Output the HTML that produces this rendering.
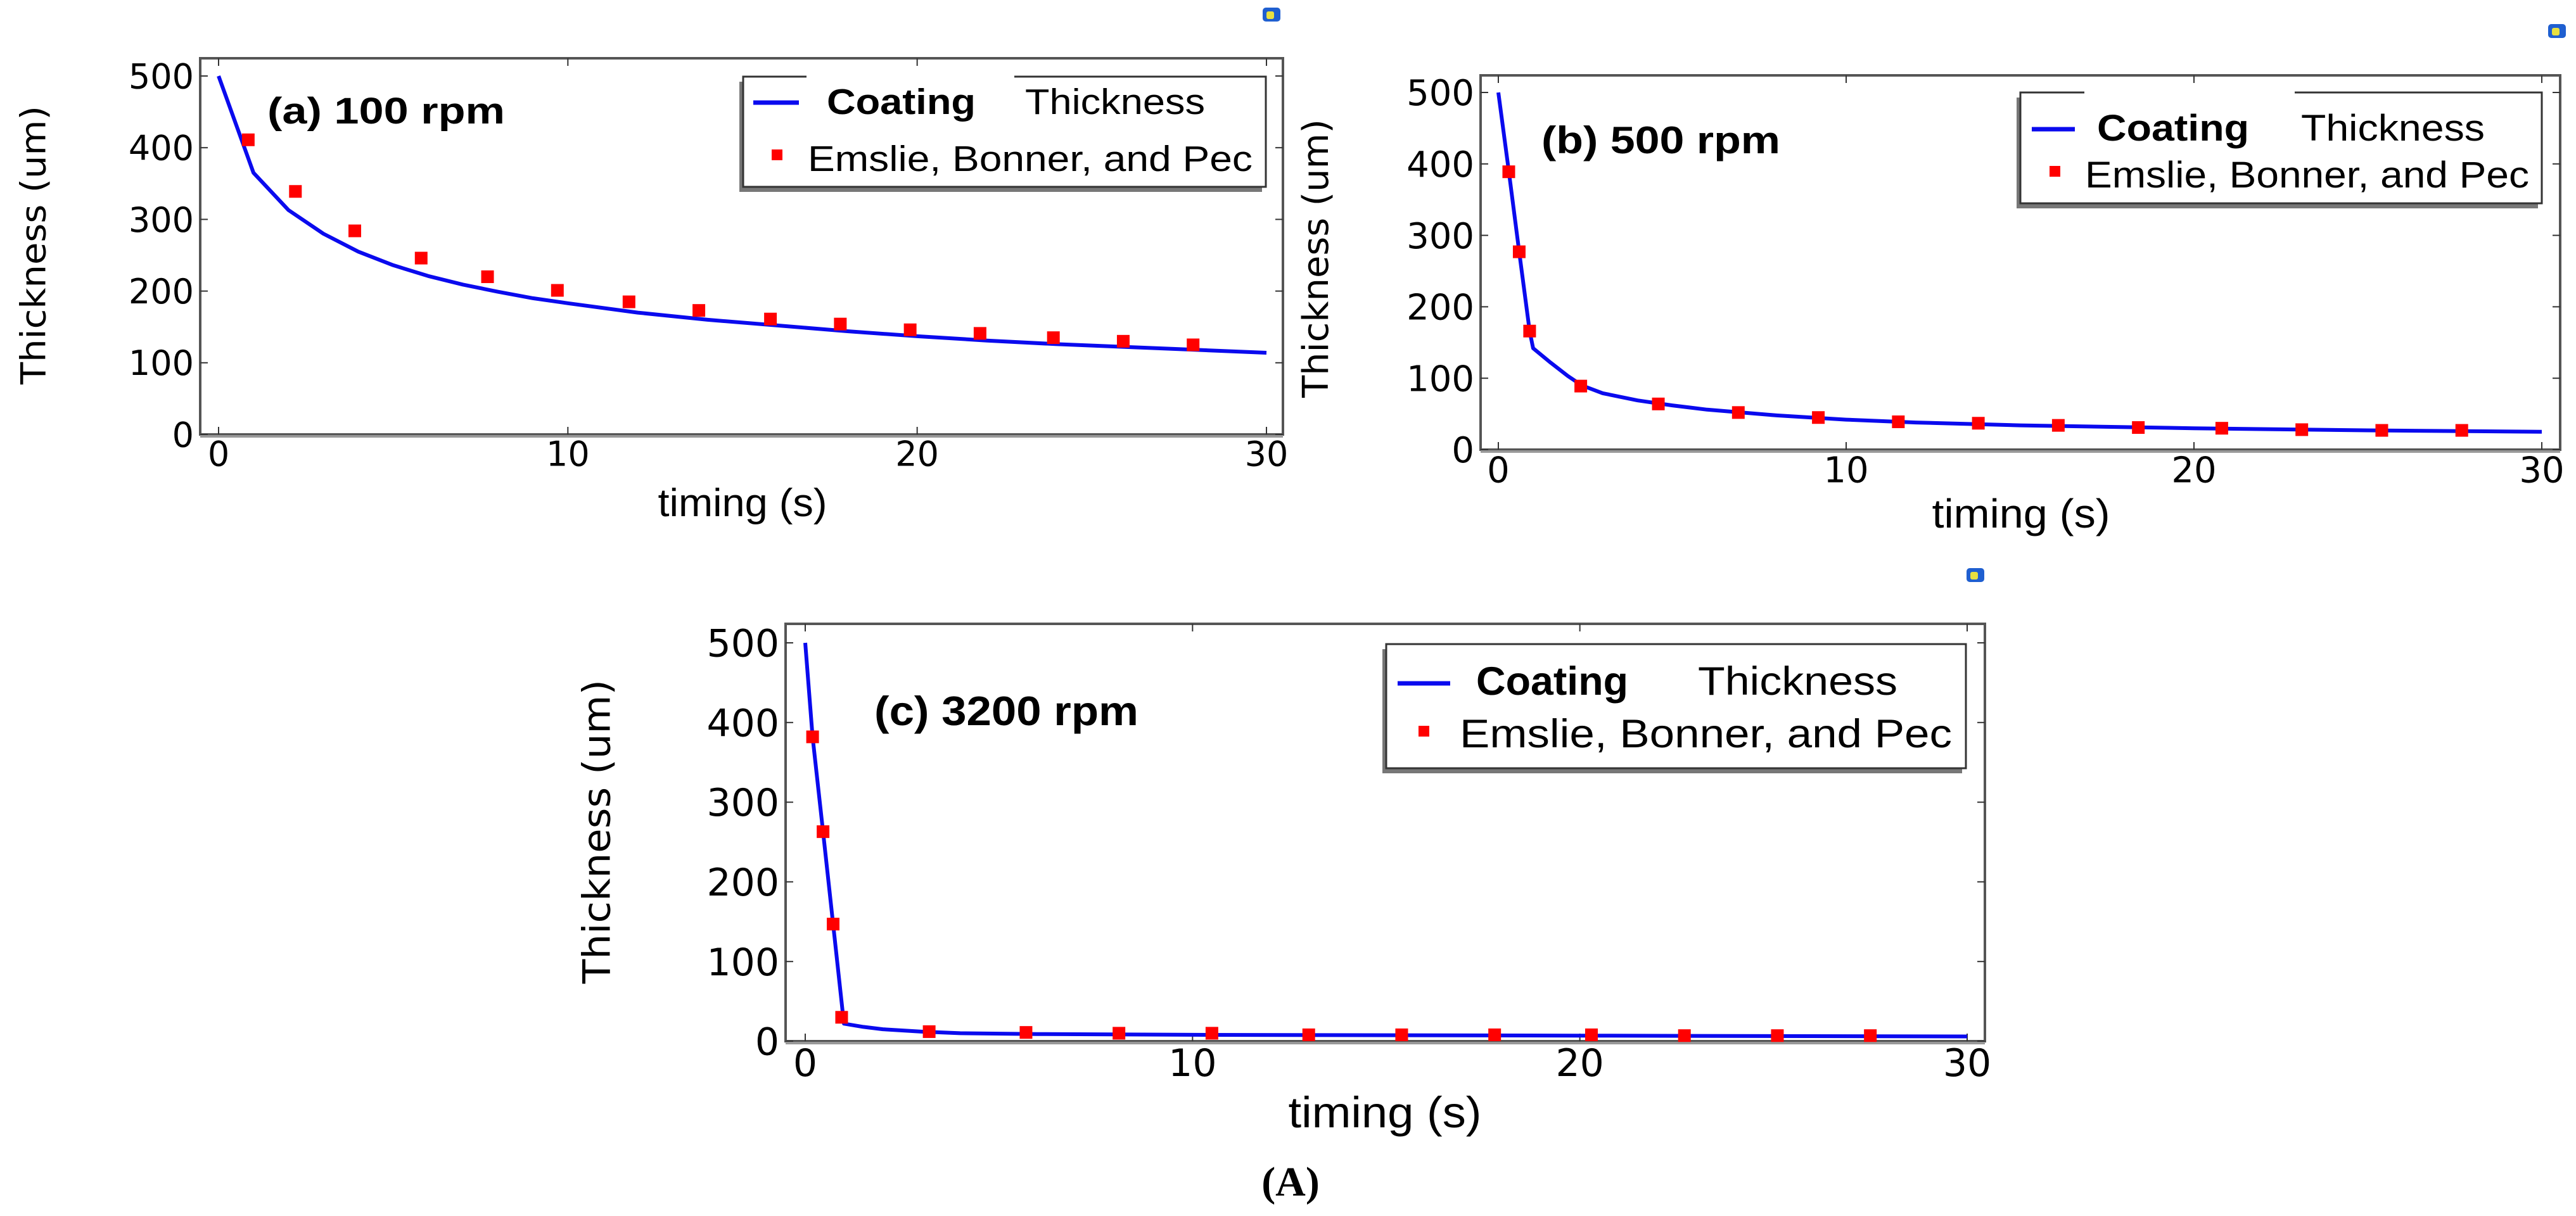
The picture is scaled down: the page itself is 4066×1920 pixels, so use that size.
<!DOCTYPE html>
<html><head><meta charset="utf-8"><style>
html,body{margin:0;padding:0;background:#fff;}
svg{display:block;}
</style></head><body>
<svg id="fig" width="4066" height="1920" viewBox="0 0 4066 1920" xmlns="http://www.w3.org/2000/svg">
<text x="2037" y="1888" font-family="Liberation Serif, serif" font-weight="bold" font-size="66" text-anchor="middle">(A)</text>
</svg>
<script>
// ---- data: panel (a) 100 rpm ----
const aLineT = [0,1,2,3,4,5,6,7,8,9,10,12,14,16,18,20,22,24,26,28,30];
const aLineV = [500,365,313,280,255,236,221,209,199,190,183,170,160,152,144,137,131,126,122,118,114];
const aMarkT = [0.85,2.2,3.9,5.8,7.7,9.7,11.75,13.75,15.8,17.8,19.8,21.8,23.9,25.9,27.9];
const aMarkV = [411,339,284,246,220,201,185,173,161,154,146,141,135,130,125];
// ---- data: panel (b) 500 rpm ----
const bLineT = [0,0.3,0.6,0.9,1.0,1.5,2,2.4,3,4,5,6,8,10,12,15,20,25,30];
const bLineV = [500,390,277,166,142,122,103,90,79,69,62,56,48,42,38,34,30,27,25];
const bMarkT = [0.3,0.6,0.9,2.37,4.6,6.9,9.2,11.5,13.8,16.1,18.4,20.8,23.1,25.4,27.7];
const bMarkV = [389,277,166,89,64,52,45,39,37,34,31,30,28,27,27];
// ---- data: panel (c) 3200 rpm ----
const cLineT = [0,0.19,0.46,0.72,1.0,1.5,2,3,4,6,10,20,30];
const cLineV = [500,382,263,147,22,18,15,12,10,9,8,7,6];
const cMarkT = [0.19,0.46,0.72,0.94,3.2,5.7,8.1,10.5,13,15.4,17.8,20.3,22.7,25.1,27.5];
const cMarkV = [382,263,147,30,12,11,10,10,8,8,8,8,7,7,7];
// ---- axis ticks ----
const xTicks = [0,10,20,30];
const yTicks = [0,100,200,300,400,500];

const NS = 'http://www.w3.org/2000/svg';
const svg = document.getElementById('fig');
function mk(tag, attrs, parent, text){
  const e = document.createElementNS(NS, tag);
  for (const k in attrs) e.setAttribute(k, attrs[k]);
  if (text !== undefined) e.textContent = text;
  (parent||svg).appendChild(e);
  return e;
}

const panels = [
  {id:'a', label:'(a) 100 rpm', lt:aLineT, lv:aLineV, mt:aMarkT, mv:aMarkV,
   box:[316,92,2025,686], x0:345, x1:1999, y0:686, y500:120, fs:54,
   ytitle:[52,387,440], xtitle:[1172,815,267], labelPos:[422,175,375],
   leg:[1173,121,1998,295], gap:[1273,1601], legRows:[180,270],
   lineS:[1189,1261], coat:[1305,235], thick:[1618,284], mk:1226, ems:[1275,702], icon:[1993,12]},
  {id:'b', label:'(b) 500 rpm', lt:bLineT, lv:bLineV, mt:bMarkT, mv:bMarkV,
   box:[2337,119,4041,710], x0:2365, x1:4012, y0:710, y500:146, fs:56,
   ytitle:[2076,408,440], xtitle:[3190,833,281], labelPos:[2433,222,377],
   leg:[3189,146,4012,321], gap:[3290,3622], legRows:[222,296],
   lineS:[3207,3275], coat:[3310,240], thick:[3632,290], mk:3243, ems:[3291,701], icon:[4022,38]},
  {id:'c', label:'(c) 3200 rpm', lt:cLineT, lv:cLineV, mt:cMarkT, mv:cMarkV,
   box:[1240,985,3133,1644], x0:1271, x1:3105, y0:1644, y500:1015, fs:60,
   ytitle:[941,1313,480], xtitle:[2186,1780,305], labelPos:[1380,1125,417],
   leg:[2188,1017,3103,1213], gap:null, legRows:[1097,1180],
   lineS:[2206,2289], coat:[2330,240], thick:[2680,315], mk:2247, ems:[2304,777], icon:[3104,897]}
];

panels.forEach(p => {
  const g = mk('g', {});
  
  
  const sx = t => p.x0 + (t/30)*(p.x1-p.x0);
  const sy = v => p.y0 - (v/500)*(p.y0-p.y500);
  const [L,T,R,B] = p.box;
  // frame
  const frame = mk('rect', {x:L, y:T, width:R-L, height:B-T, fill:'none', stroke:'#555', 'stroke-width':4}, g);
  
  
  mk('line', {x1:L, y1:B+3, x2:R, y2:B+3, stroke:'#999', 'stroke-width':4}, g);
  // x ticks
  xTicks.forEach(t => {
    const x = sx(t);
    mk('line', {x1:x, y1:B, x2:x, y2:B-12, stroke:'#333', 'stroke-width':2}, g);
    mk('line', {x1:x, y1:T, x2:x, y2:T+12, stroke:'#333', 'stroke-width':2}, g);
    const tl = mk('text', {x:x, y:B+p.fs*0.92, 'font-family':'DejaVu Sans, sans-serif', 'font-size':p.fs, 'text-anchor':'middle', fill:'#000'}, g, String(t));
    
    
  });
  // y ticks
  yTicks.forEach(v => {
    const y = sy(v);
    mk('line', {x1:L, y1:y, x2:L+12, y2:y, stroke:'#333', 'stroke-width':2}, g);
    mk('line', {x1:R, y1:y, x2:R-12, y2:y, stroke:'#333', 'stroke-width':2}, g);
    const tl = mk('text', {x:L-10, y:y+p.fs*0.36, 'font-family':'DejaVu Sans, sans-serif', 'font-size':p.fs, 'text-anchor':'end', fill:'#000'}, g, String(v));
    
    
  });
  // axis titles
  const [yx,yy,yl] = p.ytitle;
  const yt = mk('text', {x:0, y:0, transform:`translate(${yx+p.fs*0.36},${yy}) rotate(-90)`, 'font-family':'DejaVu Sans, sans-serif', 'font-size':p.fs, 'text-anchor':'middle', textLength:yl, lengthAdjust:'spacingAndGlyphs'}, g, 'Thickness (um)');
  
  
  const [xx,xy,xl] = p.xtitle;
  const xt = mk('text', {x:xx, y:xy, 'font-family':'Liberation Sans, sans-serif', 'font-size':p.fs*1.15, 'text-anchor':'middle', textLength:xl, lengthAdjust:'spacingAndGlyphs'}, g, 'timing (s)');
  
  
  // line series
  const d = p.lt.map((t,i) => (i?'L':'M') + sx(t).toFixed(1) + ',' + sy(p.lv[i]).toFixed(1)).join(' ');
  const ln = mk('path', {d:d, fill:'none', stroke:'#0a0aee', 'stroke-width':6, 'stroke-linejoin':'round'}, g);
  
  
  // markers
  p.mt.forEach((t,i) => {
    const r = mk('rect', {x:sx(t)-10, y:sy(p.mv[i])-10, width:20, height:20, fill:'#ff0000'}, g);
    
    
  });
  // panel label
  const [lx,ly,lw] = p.labelPos;
  const pl = mk('text', {x:lx, y:ly+20, 'font-family':'Liberation Sans, sans-serif', 'font-weight':'bold', 'font-size':p.fs*1.08, textLength:lw, lengthAdjust:'spacingAndGlyphs'}, g, p.label);
  
  
  // legend
  const [gl,gt,gr,gb] = p.leg;
  const lg = mk('g', {}, g);
  
  
  mk('rect', {x:gl-6, y:gt+8, width:gr-gl, height:gb-gt, fill:'#777'}, lg);
  mk('rect', {x:gl, y:gt, width:gr-gl, height:gb-gt, fill:'#fff', stroke:'#333', 'stroke-width':3}, lg);
  if (p.gap) mk('line', {x1:p.gap[0], y1:gt, x2:p.gap[1], y2:gt, stroke:'#fff', 'stroke-width':5}, lg);
  const [r1,r2] = p.legRows;
  mk('line', {x1:p.lineS[0], y1:r1-18, x2:p.lineS[1], y2:r1-18, stroke:'#0a0aee', 'stroke-width':7}, lg);
  const c1 = mk('text', {x:p.coat[0], y:r1, 'font-family':'Liberation Sans, sans-serif', 'font-weight':'bold', 'font-size':p.fs*1.05, textLength:p.coat[1], lengthAdjust:'spacingAndGlyphs'}, lg, 'Coating');
  
  
  mk('text', {x:p.thick[0], y:r1, 'font-family':'Liberation Sans, sans-serif', 'font-size':p.fs*1.05, textLength:p.thick[1], lengthAdjust:'spacingAndGlyphs'}, lg, 'Thickness');
  mk('rect', {x:p.mk-8, y:r2-34, width:17, height:17, fill:'#ff0000'}, lg);
  const e1 = mk('text', {x:p.ems[0], y:r2, 'font-family':'Liberation Sans, sans-serif', 'font-size':p.fs*1.05, textLength:p.ems[1], lengthAdjust:'spacingAndGlyphs'}, lg, 'Emslie, Bonner, and Pec');
  
  
  // small icon
  const [ix,iy] = p.icon;
  const ic = mk('g', {}, g);
  
  
  mk('rect', {x:ix, y:iy, width:28, height:22, rx:5, fill:'#1f5fd0'}, ic);
  mk('rect', {x:ix+6, y:iy+6, width:12, height:12, rx:3, fill:'#e8e040'}, ic);
});
</script>
</body></html>
